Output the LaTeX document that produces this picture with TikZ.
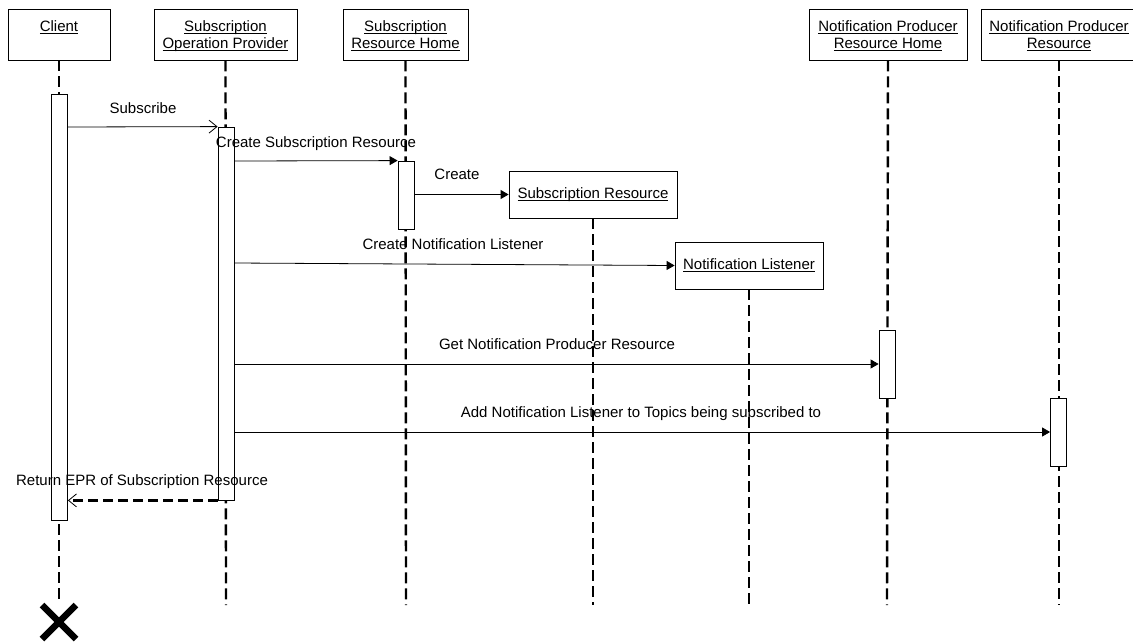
\documentclass[tikz,border=0pt]{standalone}
\usepackage{fontspec}
\setmainfont{Liberation Sans}
\usetikzlibrary{arrows.meta}
\newbox\ulinbox
\newcommand\ulin[1]{\setbox\ulinbox\hbox{#1}\rlap{\rule[-2pt]{\wd\ulinbox}{0.8pt}}\box\ulinbox}
\begin{document}
\begin{tikzpicture}[x=1pt,y=-1pt,
  every node/.style={font=\fontsize{15}{17}\selectfont},
  obj/.style={draw, line width=0.8pt, inner sep=0, minimum height=51pt},
  objtext/.style={anchor=north, inner sep=0, align=center},
  act/.style={draw, fill=white, line width=0.8pt, minimum width=16pt, inner sep=0},
  life/.style={line width=2.4pt, dash pattern=on 11pt off 5pt},
  msg/.style={line width=0.8pt, -{Triangle[length=8pt,width=9pt]}},
  asyncmsg/.style={line width=0.8pt, -{Straight Barb[length=8pt,width=13pt,line width=0.8pt]}},
  ret/.style={line width=2.4pt, dash pattern=on 10pt off 5pt, -{Straight Barb[length=8pt,width=13pt,line width=0.8pt]}},
  lbl/.style={anchor=base, inner sep=0},
  xmark/.style={line width=6.5pt}]
\useasboundingbox (0,0) rectangle (1133,643);

% objects
\node[obj, minimum width=102pt] (client) at (59,34.5) {};
\node[obj, minimum width=143pt] (sop) at (225.5,34.5) {};
\node[obj, minimum width=125pt] (srh) at (405.5,34.5) {};
\node[obj, minimum width=158pt] (nprh) at (888,34.5) {};
\node[obj, minimum width=156pt] (npr) at (1059,34.5) {};
\node[objtext] (clientt) at (59,20.5) {\ulin{Client}};
\node[objtext] (sopt) at (225.5,20.5) {\ulin{Subscription}\\\ulin{Operation Provider}};
\node[objtext] (srht) at (405.5,20.5) {\ulin{Subscription}\\\ulin{Resource Home}};
\node[objtext] (nprht) at (888,20.5) {\ulin{Notification Producer}\\\ulin{Resource Home}};
\node[objtext] (nprt) at (1059,20.5) {\ulin{Notification Producer}\\\ulin{Resource}};
\node[obj, minimum width=168pt, minimum height=47pt] (sr) at (593,194.5) {\ulin{Subscription Resource}};
\node[obj, minimum width=148pt, minimum height=47pt] (nl) at (749,265.5) {\ulin{Notification Listener}};

% destruction mark
\coordinate (destroy) at (59,622);
\draw[xmark] (destroy) +(-17,-17) -- +(17,17);
\draw[xmark] (destroy) +(-17,17) -- +(17,-17);

% lifeline ends
\coordinate (sop-end) at (226,605);
\coordinate (srh-end) at (406,605);
\coordinate (sr-end) at (593,605);
\coordinate (nl-end) at (749,605);
\coordinate (nprh-end) at (887,605);
\coordinate (npr-end) at (1059,605);
\coordinate (client-end) at (59,603);

% lifelines
\draw[life] (client.south) -- (client-end);
\draw[life] (sop.south) -- (sop-end);
\draw[life] (srh.south) -- (srh-end);
\draw[life] (sr.south) -- (sr-end);
\draw[life] (nl.south) -- (nl-end);
\draw[life] (nprh.south) -- (nprh-end);
\draw[life] (npr.south) -- (npr-end);

% activations
\node[act, minimum height=426pt] (aclient) at (59.5,307) {};
\node[act, minimum height=373pt] (asop) at (226,313.5) {};
\node[act, minimum height=68pt] (asrh) at (406,195) {};
\node[act, minimum height=68pt] (anprh) at (887,364) {};
\node[act, minimum height=68pt] (anpr) at (1058.5,432) {};

% messages
\draw[asyncmsg] (aclient.east |- 0,127) -- (asop.north west);
\draw[msg] (asop.east |- 0,161) -- (asrh.north west);
\draw[msg] (asrh.east |- sr.west) -- (sr.west);
\draw[msg] (asop.east |- 0,263) -- (nl.west);
\draw[msg] (asop.east |- anprh.west) -- (anprh.west);
\draw[msg] (asop.east |- anpr.west) -- (anpr.west);
\draw[ret] (asop.south west) -- (aclient.east |- asop.south west);

% labels
\node[lbl] (l1) at (143,113) {Subscribe};
\node[lbl] (l2) at (316,147) {Create Subscription Resource};
\node[lbl] (l3) at (457,179) {Create};
\node[lbl] (l4) at (453,249) {Create Notification Listener};
\node[lbl] (l5) at (557,349) {Get Notification Producer Resource};
\node[lbl] (l6) at (641,417) {Add Notification Listener to Topics being subscribed to};
\node[lbl] (l7) at (142,485) {Return EPR of Subscription Resource};
\end{tikzpicture}
\end{document}
